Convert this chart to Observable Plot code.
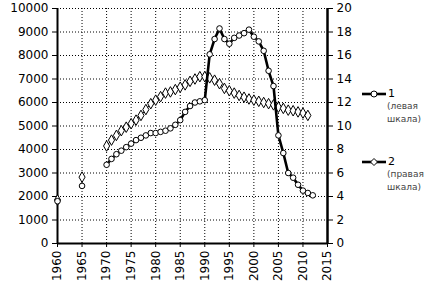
<!DOCTYPE html>
<html>
<head>
<meta charset="utf-8">
<script src="https://cdn.jsdelivr.net/npm/d3@7"></script>
<script src="https://cdn.jsdelivr.net/npm/@observablehq/plot@0.6"></script>
<style>
  html, body { margin: 0; padding: 0; background: #fff; }
  #wrap { position: relative; width: 437px; height: 284px; overflow: hidden; }
  .lg { position: absolute; font-family: "DejaVu Sans", sans-serif; color: #000; }
  .note { position: absolute; font-family: "DejaVu Sans", sans-serif; font-size: 9px; color: #444; line-height: 13px; }
</style>
</head>
<body>
<div id="wrap"></div>
<script>
// Series 1 (left scale)
const years1 = [1960, 1965, 1970, 1971, 1972, 1973, 1974, 1975, 1976, 1977, 1978, 1979, 1980, 1981, 1982, 1983, 1984, 1985, 1986, 1987, 1988, 1989, 1990, 1991, 1992, 1993, 1994, 1995, 1996, 1997, 1998, 1999, 2000, 2001, 2002, 2003, 2004, 2005, 2006, 2007, 2008, 2009, 2010, 2011, 2012];
const values1 = [1800, 2450, 3350, 3600, 3800, 3950, 4100, 4250, 4400, 4500, 4600, 4700, 4700, 4750, 4800, 4900, 5050, 5250, 5600, 5850, 6000, 6050, 6100, 8050, 8700, 9150, 8700, 8500, 8750, 8850, 8950, 9100, 8800, 8600, 8200, 7350, 6700, 4600, 3850, 3000, 2800, 2500, 2250, 2150, 2050];
// Series 2 (right scale)
const years2 = [1960, 1965, 1970, 1971, 1972, 1973, 1974, 1975, 1976, 1977, 1978, 1979, 1980, 1981, 1982, 1983, 1984, 1985, 1986, 1987, 1988, 1989, 1990, 1991, 1992, 1993, 1994, 1995, 1996, 1997, 1998, 1999, 2000, 2001, 2002, 2003, 2004, 2005, 2006, 2007, 2008, 2009, 2010, 2011];
const values2 = [3.7, 5.65, 8.3, 8.8, 9.2, 9.6, 9.9, 10.2, 10.5, 10.9, 11.4, 11.9, 12.2, 12.5, 12.8, 12.9, 13.1, 13.3, 13.5, 13.8, 14.0, 14.2, 14.2, 14.1, 13.9, 13.6, 13.2, 13.0, 12.8, 12.6, 12.45, 12.3, 12.2, 12.1, 12.0, 11.9, 11.8, 11.6, 11.5, 11.35, 11.3, 11.2, 11.1, 10.9];
// Axis ticks
const xTicks = [1960, 1965, 1970, 1975, 1980, 1985, 1990, 1995, 2000, 2005, 2010, 2015];
const leftTicks = [0, 1000, 2000, 3000, 4000, 5000, 6000, 7000, 8000, 9000, 10000];
const rightTicks = [0, 2, 4, 6, 8, 10, 12, 14, 16, 18, 20];
const ratio = 500; // left units per right unit (10000 / 20)
const legendLabels = ["1", "2"];
const legendNotes = [["(левая", "шкала)"], ["(правая", "шкала)"]];

const s1 = years1.map((y, i) => ({year: y, v: values1[i]}));
const s2 = years2.map((y, i) => ({year: y, v: values2[i] * ratio}));
const s1line = s1.filter(d => d.year >= 1970);
const s2line = s2.filter(d => d.year >= 1970);

const chart = Plot.plot({
  width: 437,
  height: 284,
  marginLeft: 57,
  marginRight: 110,
  marginTop: 8,
  marginBottom: 41,
  style: {fontFamily: "DejaVu Sans, sans-serif", fontSize: "12px", background: "#fff", color: "#000"},
  x: {domain: [1960, 2015]},
  y: {domain: [0, 10000]},
  marks: [
    Plot.gridY(leftTicks.slice(1), {stroke: "#000", strokeOpacity: 1, strokeWidth: 1, strokeDasharray: "1,2"}),
    Plot.gridX(xTicks.slice(1, -1), {stroke: "#000", strokeOpacity: 1, strokeWidth: 1, strokeDasharray: "1,2"}),
    Plot.axisY(leftTicks, {anchor: "left", tickSize: 5, tickPadding: 4, tickFormat: d3.format("d"), label: null, fontSize: 12}),
    Plot.axisY(leftTicks, {anchor: "right", tickSize: 5, tickPadding: 4, tickFormat: d => String(d / ratio), label: null, fontSize: 12}),
    Plot.axisX(xTicks, {tickSize: 4, tickPadding: 3, tickRotate: -90, tickFormat: d3.format("d"), label: null, fontSize: 12}),
    Plot.ruleX([1960], {stroke: "#000", strokeWidth: 2}),
    Plot.ruleX([2015], {stroke: "#000", strokeWidth: 2.5}),
    Plot.ruleY([0], {stroke: "#000", strokeWidth: 2}),
    Plot.line(s2line, {x: "year", y: "v", stroke: "#000", strokeWidth: 1}),
    Plot.dot(s2, {x: "year", y: "v", symbol: "diamond", r: 3.2, fill: "#fff", stroke: "#000", strokeWidth: 1}),
    Plot.line(s1line, {x: "year", y: "v", stroke: "#000", strokeWidth: 2.6}),
    Plot.dot(s1, {x: "year", y: "v", symbol: "circle", r: 2.8, fill: "#fff", stroke: "#000", strokeWidth: 1})
  ]
});

const wrap = document.getElementById("wrap");
wrap.appendChild(chart);

// Legend (HTML overlay at the right)
const legendTops = [83, 151];
legendLabels.forEach((lab, i) => {
  const top = legendTops[i];
  const sw = document.createElement("div");
  sw.className = "lg";
  sw.style.left = "361px";
  sw.style.top = top + "px";
  const marker = i === 0
    ? '<circle cx="13" cy="7" r="3" fill="#fff" stroke="#000" stroke-width="1"/>'
    : '<path d="M13,3.5 L16.5,7 L13,10.5 L9.5,7 Z" fill="#fff" stroke="#000" stroke-width="1"/>';
  sw.innerHTML = '<svg width="26" height="14" style="vertical-align:middle"><line x1="1" y1="7" x2="25" y2="7" stroke="#000" stroke-width="2.6"/>' + marker + '</svg><span style="font-size:11px;vertical-align:middle;margin-left:1px">' + lab + '</span>';
  wrap.appendChild(sw);
  const nt = document.createElement("div");
  nt.className = "note";
  nt.style.left = "387px";
  nt.style.top = (top + 17) + "px";
  nt.innerHTML = legendNotes[i].join("<br>");
  wrap.appendChild(nt);
});
</script>
</body>
</html>
